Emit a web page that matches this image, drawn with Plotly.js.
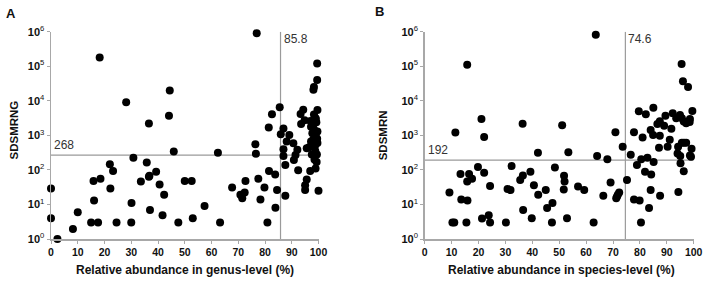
<!DOCTYPE html>
<html>
<head>
<meta charset="utf-8">
<script src="https://cdn.plot.ly/plotly-3.0.1.min.js"></script>
<style>html,body{margin:0;padding:0;background:#fff;}#chart{width:708px;height:283px;}</style>
</head>
<body>
<div id="chart"></div>
<script>
// ---- Data ----
const genusX = [18.2,28.1,44.4,44.1,36.6,45.9,30.8,22,23.2,35.8,39.3,36.6,36.8,33.6,40.6,42.3,50,52.6,0,15.9,18.5,22.2,16.1,30.1,10,37,41.7,0,53,15,17.6,24.5,30,47.6,8.2,2.4,
  76.9,62.4,76.4,76.6,81.4,82.6,85.5,67.7,72.7,70.8,71.5,72.4,77.5,79.8,81.5,83.8,84.5,78.3,83.9,80.9,63.2,57.4,87.6,
  99.5,99.5,98.3,98.1,96.9,95.6,95,95,92.4,87.6,86.9,86.9,90.8,91.4,92.1,90.6,89.1,88.1,85.9,86.9,93.3,94.3,93.5,94.8,95.6,97.2,97.7,97.2,97.8,98.3,98.8,99.6,99.2,99.6,99,99.6,98.8,99.4,98.5,98.9,97.5,96.5,98,99,97,98.3,99.5,98.7,100,99.3];
const genusY = [180000,9100,20000,3700,2200,340,225,145,93,165,89,63,68,46,38,19,48,48,29,48,55,29,13,11,5.9,6.9,4.9,4,4,3,3,3,3,3,1.95,1,
  900000,316,550,295,1700,4100,6500,31,48,19,15,22,55,31,93,74,26,14,8,3,3,9,18,
  120000,40000,25000,21000,93,53,36,26,97,138,252,395,195,270,380,590,1020,660,1070,1590,4170,5500,2140,2750,420,660,1150,1780,1900,4000,3200,5400,2400,1300,900,600,350,280,200,110,280,450,750,3000,2600,1500,800,500,25,170];

const speciesX = [15.8,21.1,11.4,22.1,36.4,19.8,13.3,16.5,17.6,15.8,22.1,24.3,9.2,13.6,15.9,32.3,36.5,35.5,39.3,30.8,31.9,40.6,36.6,23.8,21.3,39.8,10.3,11,15.5,24.3,30.2,
  63.6,95.5,96,97.9,51.1,42.1,53.4,64.1,67.9,70.9,73.6,48.4,51.8,52,51.7,42.2,45,47.5,45.5,47.3,52.9,62.8,57,59.3,66.4,69.1,71.2,71.8,72.3,71.5,75.2,77.8,79.9,83.4,80.4,84,87.5,94.3,
  76.6,77.8,79.6,82.2,85,81,80.5,82.8,78.9,81.9,84.2,85.1,87.1,84,84.9,87.4,86.5,87.4,89,89.5,90.3,91.1,91.7,92.2,93.5,94.9,95.6,96.3,97.2,98.6,98.5,99.5,95.6,96.4,97.2,94.2,94,95,95.1,96.3,99.2,98.6,99];
const speciesY = [110000,2960,1200,900,2180,121,76,76,55,46,83,34,22,14,13,129,69,51,89,28,26,36,6.9,4.9,3.9,4,3,3,3,3,3,
  820000,117000,37000,25000,1950,316,324,252,203,1230,470,118,68,46,27,19,26,11,7.9,3,4,3,33,26,18,43,15,19,22,17,51,14,13,7.9,3,26,18,23,
  275,1230,5000,4070,6300,870,203,225,138,89,74,170,440,1420,1020,980,2140,2570,1900,3700,470,740,1560,4340,3100,3900,3100,2500,2240,2950,2450,5100,615,615,615,470,300,252,155,91,410,263,240];

const xTicks = [0,10,20,30,40,50,60,70,80,90,100];
const yTickVals = [1,10,100,1000,10000,100000,1000000];
const yTickText = ['0','1','2','3','4','5','6'].map(e => '<b>10</b><sup>' + e + '</sup>');

const cutA = {y: 268, x: 85.8};
const cutB = {y: 192, x: 74.6};

const titles = {
  xA: 'Relative abundance in genus-level (%)',
  xB: 'Relative abundance in species-level (%)',
  yA: 'SDSMRNG',
  yB: 'SDSMRN'
};

// ---- Geometry ----
const W = 708, H = 283;
const px = v => v / W, py = v => 1 - v / H;

const lineColor = '#a8a8a8';
const refColor = '#9a9a9a';
const font = 'Arial, "Liberation Sans", sans-serif';

function pts(x, y, xa, ya) {
  return {x: x, y: y, xaxis: xa, yaxis: ya, type: 'scatter', mode: 'markers',
    marker: {color: '#000', size: 8}, cliponaxis: false, hoverinfo: 'skip', showlegend: false};
}
function ref(x, y, xa, ya) {
  return {x: x, y: y, xaxis: xa, yaxis: ya, type: 'scatter', mode: 'lines',
    line: {color: refColor, width: 1.2}, cliponaxis: false, hoverinfo: 'skip', showlegend: false};
}

const traces = [
  ref([0, 100], [cutA.y, cutA.y], 'x', 'y'),
  ref([cutA.x, cutA.x], [1, 1e6], 'x', 'y'),
  ref([0, 100], [cutB.y, cutB.y], 'x2', 'y2'),
  ref([cutB.x, cutB.x], [1, 1e6], 'x2', 'y2'),
  pts(genusX, genusY, 'x', 'y'),
  pts(speciesX, speciesY, 'x2', 'y2')
];

function xax(domain, anchor) {
  return {domain: domain, anchor: anchor, range: [0, 100], tickmode: 'array', tickvals: xTicks,
    ticks: 'outside', ticklen: 3, tickwidth: 1, tickcolor: lineColor,
    showline: true, linecolor: lineColor, linewidth: 1.5, showgrid: false, zeroline: false,
    tickfont: {family: font, size: 10.5, color: '#111', weight: 'bold'}, automargin: false, fixedrange: true};
}
function yax(anchor) {
  return {domain: [py(239), py(31.7)], anchor: anchor, type: 'log', range: [0, 6], tickmode: 'array',
    tickvals: yTickVals, ticktext: yTickText,
    ticks: 'outside', ticklen: 3, tickwidth: 1, tickcolor: lineColor,
    showline: true, linecolor: lineColor, linewidth: 1.5, showgrid: false, zeroline: false,
    tickfont: {family: font, size: 11, color: '#111'}, automargin: false, fixedrange: true};
}

function ann(text, x, y, opts) {
  return Object.assign({text: text, x: x, y: y, xref: 'paper', yref: 'paper', showarrow: false,
    xanchor: 'center', yanchor: 'middle',
    font: {family: font, size: 12, color: '#111', weight: 'bold'}}, opts || {});
}

const annotations = [
  ann('A', px(10.5), py(13.7), {font: {family: font, size: 13, color: '#111', weight: 'bold'}}),
  ann('B', px(379), py(11.3), {font: {family: font, size: 13, color: '#111', weight: 'bold'}}),
  ann(titles.xA, px(184.7), py(270)),
  ann(titles.xB, px(561), py(270)),
  ann(titles.yA, px(13.5), py(130), {textangle: -90, font: {family: font, size: 11.5, color: '#111', weight: 'bold'}}),
  ann(titles.yB, px(383.3), py(135), {textangle: -90, font: {family: font, size: 11.5, color: '#111', weight: 'bold'}}),
  // threshold labels
  {text: String(cutA.y), x: 0.5, y: Math.log10(cutA.y), xref: 'x', yref: 'y', showarrow: false, xanchor: 'left', yanchor: 'bottom', yshift: 1,
    font: {family: font, size: 12, color: '#333'}},
  {text: String(cutA.x), x: cutA.x, y: 6, xref: 'x', yref: 'y', showarrow: false, xanchor: 'left', yanchor: 'top', xshift: 1, yshift: 2,
    font: {family: font, size: 12, color: '#333'}},
  {text: String(cutB.y), x: 0.5, y: Math.log10(cutB.y), xref: 'x2', yref: 'y2', showarrow: false, xanchor: 'left', yanchor: 'bottom', yshift: 1,
    font: {family: font, size: 12, color: '#333'}},
  {text: String(cutB.x), x: cutB.x, y: 6, xref: 'x2', yref: 'y2', showarrow: false, xanchor: 'left', yanchor: 'top', xshift: 1, yshift: 2,
    font: {family: font, size: 12, color: '#333'}}
];

const layout = {
  width: W, height: H,
  margin: {l: 0, r: 0, t: 0, b: 0, pad: 0},
  paper_bgcolor: '#fff', plot_bgcolor: 'rgba(0,0,0,0)',
  showlegend: false,
  xaxis: xax([px(51), px(318.5)], 'y'),
  yaxis: yax('x'),
  xaxis2: xax([px(424.7), px(693.7)], 'y2'),
  yaxis2: yax('x2'),
  annotations: annotations
};

Plotly.newPlot('chart', traces, layout, {staticPlot: true, displayModeBar: false});
</script>
</body>
</html>
